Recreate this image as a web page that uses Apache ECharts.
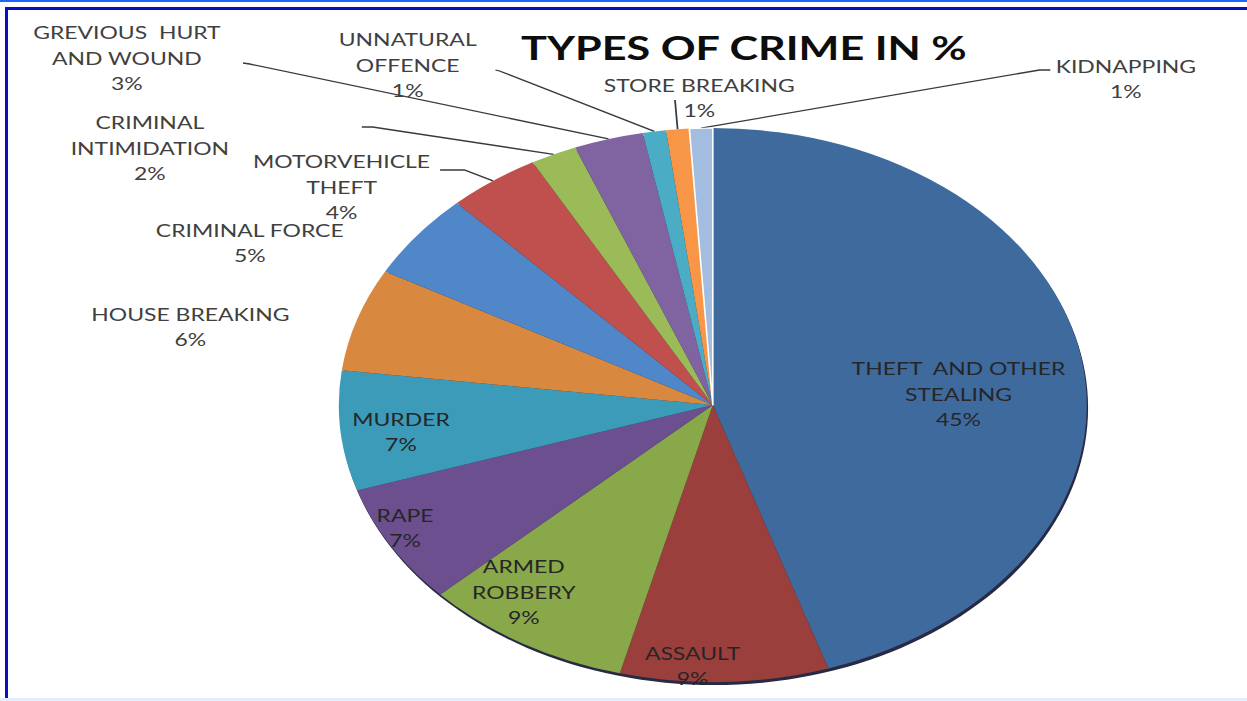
<!DOCTYPE html>
<html>
<head>
<meta charset="utf-8">
<script src="https://cdn.jsdelivr.net/npm/echarts@6/dist/echarts.min.js"></script>
<style>
html,body{margin:0;padding:0;background:#fff;width:1247px;height:701px;overflow:hidden;}
#wrap{position:absolute;left:0;top:0;width:1247px;height:701px;background:#fff;}
#chart{position:absolute;left:0;top:0;width:924px;height:701px;transform:scaleX(1.35);transform-origin:0 0;}
.ln{position:absolute;}
</style>
</head>
<body>
<div id="wrap">
  <div id="chart"></div>
  <div class="ln" style="left:0;top:0;width:1247px;height:2px;background:#1a66ff"></div>
  <div class="ln" style="left:5px;top:7px;width:1242px;height:3px;background:#0a10c0"></div>
  <div class="ln" style="left:5px;top:7px;width:3px;height:692px;background:#0a10c0"></div>
  <div class="ln" style="left:0;top:698px;width:1247px;height:3px;background:#e2eeff"></div>
</div>
<script>
// ---- data ----
const categories = [
  'THEFT  AND OTHER\nSTEALING', 'ASSAULT', 'ARMED\nROBBERY', 'RAPE', 'MURDER',
  'HOUSE BREAKING', 'CRIMINAL FORCE', 'MOTORVEHICLE\nTHEFT', 'CRIMINAL\nINTIMIDATION',
  'GREVIOUS  HURT\nAND WOUND', 'UNNATURAL\nOFFENCE', 'STORE BREAKING', 'KIDNAPPING'
];
const percentValues = [45, 9, 9, 7, 7, 6, 5, 4, 2, 3, 1, 1, 1];
const titleText = 'TYPES OF CRIME IN %';

// ---- styling / layout ----
const sliceColors = ['#3f6a9d', '#9b3f3c', '#89a84a', '#6b4f8e', '#3c9bb9', '#d9883f',
  '#4f87c8', '#c0504d', '#9bbb59', '#8064a2', '#4bacc6', '#f79646', '#a3bde0'];
const insideLabel = [true, true, true, true, true, false, false, false, false, false, false, false, false];
const labelCenters = [[710, 394], [513, 666], [388, 592], [300, 528], [297, 432], [141, 327],
  [185, 243], [253, 187], [111, 148], [94, 58], [302, 65], [518, 98], [834, 79]];
const leaderEnds = {
  7: [[344, 170], [326, 170]],
  8: [[276, 127], [268, 127]],
  9: [[185, 64], [180, 63]],
  10: [[370, 71], [367, 70]],
  11: [[500, 100]],
  12: [[770, 70], [778, 70]]
};

const total = percentValues.reduce((a, b) => a + b, 0);
const pieData = categories.map((name, i) => ({
  name: name,
  value: percentValues[i],
  itemStyle: i === 12 ? { color: sliceColors[i], borderColor: '#ffffff', borderWidth: 1.2 } : { color: sliceColors[i] },
  label: { color: insideLabel[i] ? '#262626' : '#404040' },
  labelLine: { show: !!leaderEnds[i] }
}));

const chart = echarts.init(document.getElementById('chart'), null, { renderer: 'svg' });
chart.setOption({
  animation: false,
  backgroundColor: 'transparent',
  title: {
    text: titleText,
    left: 546,
    top: 26,
    textAlign: 'center',
    textStyle: { fontFamily: 'Lato', fontWeight: 'bold', fontSize: 32, color: '#0d0d0d' }
  },
  series: [
    {
      type: 'pie',
      silent: true,
      center: [529, 408],
      radius: 277,
      startAngle: 90,
      label: { show: false },
      labelLine: { show: false },
      data: [{ value: total, itemStyle: { color: '#262a45' } }],
      z: 1
    },
    {
      type: 'pie',
      center: [528, 405],
      radius: 277,
      startAngle: 90,
      clockwise: true,
      avoidLabelOverlap: false,
      z: 2,
      label: {
        show: true,
        position: 'outside',
        formatter: '{b}\n{d}%',
        fontFamily: 'Lato',
        fontSize: 17,
        lineHeight: 25.5,
        align: 'center'
      },
      labelLine: {
        show: true,
        length: 10,
        length2: 10,
        lineStyle: { color: '#3a3a3a', width: 1.3 }
      },
      labelLayout: function (params) {
        const i = params.dataIndex;
        const c = labelCenters[i];
        const res = { x: c[0], y: c[1], align: 'center', verticalAlign: 'middle' };
        if (leaderEnds[i] && params.labelLinePoints) {
          res.labelLinePoints = [params.labelLinePoints[0]].concat(leaderEnds[i]);
        }
        return res;
      },
      data: pieData
    }
  ]
});
</script>
</body>
</html>
